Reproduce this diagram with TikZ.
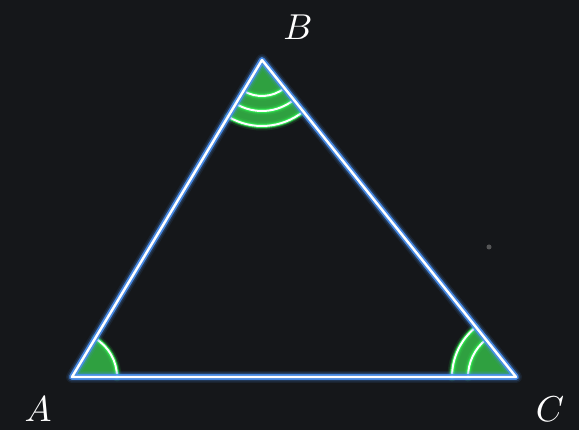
\documentclass[tikz,border=0pt]{standalone}
\usepackage{tikz}
\definecolor{bg}{HTML}{15171A}
\definecolor{edgeblue}{HTML}{4A90F0}
\definecolor{fillgreen}{HTML}{2FA040}
\definecolor{arcgreen}{HTML}{30E850}
\begin{document}
\begin{tikzpicture}[x=1pt,y=1pt,
  edgeglow/.style={draw=edgeblue,line join=round,line cap=round},
  sector/.style={fill=fillgreen,draw=none},
  arcglow/.style={draw=arcgreen,line cap=round},
  lbl/.style={text=white,scale=3.6}]
\fill[bg] (0,0) rectangle (579,-430);
\useasboundingbox (0,0) rectangle (579,-430);
\coordinate (A) at (72,-377);
\coordinate (B) at (262,-60);
\coordinate (C) at (516,-377);
% sectors
\fill[sector] (A) -- ++(0:45) arc[start angle=0,end angle=59.06,radius=45] -- cycle;
\fill[sector] (B) -- ++(239.06:66) arc[start angle=239.06,end angle=308.7,radius=66] -- cycle;
\fill[sector] (C) -- ++(128.7:64) arc[start angle=128.7,end angle=180,radius=64] -- cycle;
% arcs
\foreach \w/\o in {9/0.12,6/0.3,4/0.9}{
  \draw[arcglow,line width=\w,opacity=\o] (A) ++(0:45) arc[start angle=0,end angle=59.06,radius=45];
  \foreach \r in {36,51,66}{
    \draw[arcglow,line width=\w,opacity=\o] (B) ++(239.06:\r) arc[start angle=239.06,end angle=308.7,radius=\r];}
  \foreach \r in {48,64}{
    \draw[arcglow,line width=\w,opacity=\o] (C) ++(128.7:\r) arc[start angle=128.7,end angle=180,radius=\r];}
}
\draw[white,line width=2] (A) ++(0:45) arc[start angle=0,end angle=59.06,radius=45];
\foreach \r in {36,51,66}{
  \draw[white,line width=2] (B) ++(239.06:\r) arc[start angle=239.06,end angle=308.7,radius=\r];}
\foreach \r in {48,64}{
  \draw[white,line width=2] (C) ++(128.7:\r) arc[start angle=128.7,end angle=180,radius=\r];}
% triangle edges with glow
\foreach \w/\o in {12/0.1,9/0.2,6/0.9}{
  \draw[edgeglow,line width=\w,opacity=\o] (A) -- (B) -- (C) -- cycle;}
\draw[white,line width=2.4,line join=round] (A) -- (B) -- (C) -- cycle;
% labels
\node[lbl] (lA) at (38,-409) {$A$};
\node[lbl] (lB) at (298,-27) {$B$};
\node[lbl] (lC) at (550,-409) {$C$};
% small dot
\fill[gray!60!bg] (489,-247) circle[radius=2.5];
\end{tikzpicture}
\end{document}
